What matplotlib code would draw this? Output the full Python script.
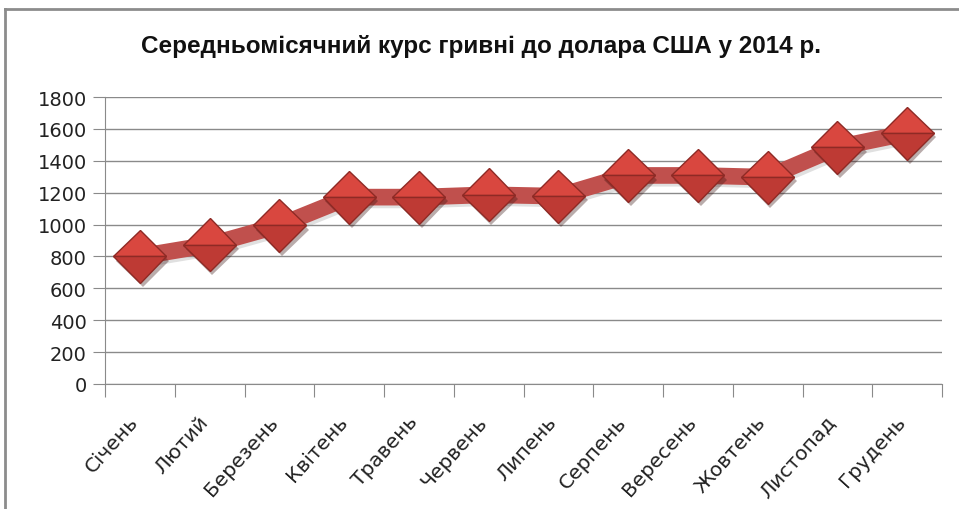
import matplotlib
matplotlib.use("Agg")
import matplotlib.pyplot as plt
from matplotlib.lines import Line2D
import matplotlib.patheffects as pe
import matplotlib.transforms as mtransforms

months = ["Січень", "Лютий", "Березень", "Квітень", "Травень", "Червень",
          "Липень", "Серпень", "Вересень", "Жовтень", "Листопад", "Грудень"]
rates = [800, 873, 995, 1172, 1172, 1187, 1178, 1308, 1308, 1297, 1484, 1574]
yticks = [0, 200, 400, 600, 800, 1000, 1200, 1400, 1600, 1800]

W, H = 959, 510
fig = plt.figure(figsize=(W / 100, H / 100), dpi=100)
fig.patch.set_facecolor("white")

# outer chart frame
fig.add_artist(Line2D([5 / W, 5 / W], [0, 1 - 10 / H], transform=fig.transFigure,
                      color="#8c8c8c", lw=2))
fig.add_artist(Line2D([5 / W, 1], [1 - 10 / H, 1 - 10 / H], transform=fig.transFigure,
                      color="#8c8c8c", lw=2))

left, right = 105 / W, 942 / W
bottom, top = 1 - 385 / H, 1 - 98 / H
ax = fig.add_axes([left, bottom, right - left, top - bottom])

x = list(range(len(months)))
ax.plot(x, rates, color="#C0504D", lw=12, solid_joinstyle="miter", zorder=3,
        path_effects=[pe.SimpleLineShadow(offset=(2, -2), shadow_color="#999999", alpha=0.3), pe.Normal()])
ax.plot(x, rates, linestyle="none", marker="D", markersize=27, fillstyle="top",
        markerfacecolor="#D9473F", markerfacecoloralt="#BE3A34",
        markeredgecolor="#8E2A25", markeredgewidth=1.0, zorder=4,
        path_effects=[pe.SimplePatchShadow(offset=(2, -3), alpha=0.35), pe.Normal()])

ax.set_xlim(-0.5, len(months) - 0.5)
ax.set_ylim(0, 1800)
ax.set_yticks(yticks)
ax.set_yticklabels([str(v) for v in yticks], fontsize=14, color="#222222", family="DejaVu Sans")
ax.yaxis.grid(True, color="#8a8a8a", lw=1)
ax.set_axisbelow(True)

ax.set_xticks([i - 0.5 for i in range(len(months) + 1)], minor=False)
ax.set_xticklabels([])
ax.set_xticks(x, minor=True)
ax.set_xticklabels(months, minor=True, rotation=48, ha="right", va="top",
                   rotation_mode="anchor", fontsize=14.5, color="#222222")
ax.tick_params(axis="x", which="major", length=9, color="#8a8a8a", direction="out")
ax.tick_params(axis="x", which="minor", length=0, pad=20)
ax.tick_params(axis="y", length=9, color="#8a8a8a", direction="out", pad=4)
shift = mtransforms.ScaledTranslation(-12 / 100, 0, fig.dpi_scale_trans)
for lab in ax.get_xticklabels(minor=True):
    lab.set_transform(lab.get_transform() + shift)

for s in ["top", "right"]:
    ax.spines[s].set_visible(False)
ax.spines["left"].set_color("#8a8a8a")
ax.spines["bottom"].set_color("#8a8a8a")

fig.text(481 / W, 1 - 47 / H, "Середньомісячний курс гривні до долара США у 2014 р.",
         ha="center", va="center", fontsize=17.5, fontweight="bold", color="#111111",
         family="Liberation Sans")

fig.savefig("out.png", dpi=100, facecolor="white")
